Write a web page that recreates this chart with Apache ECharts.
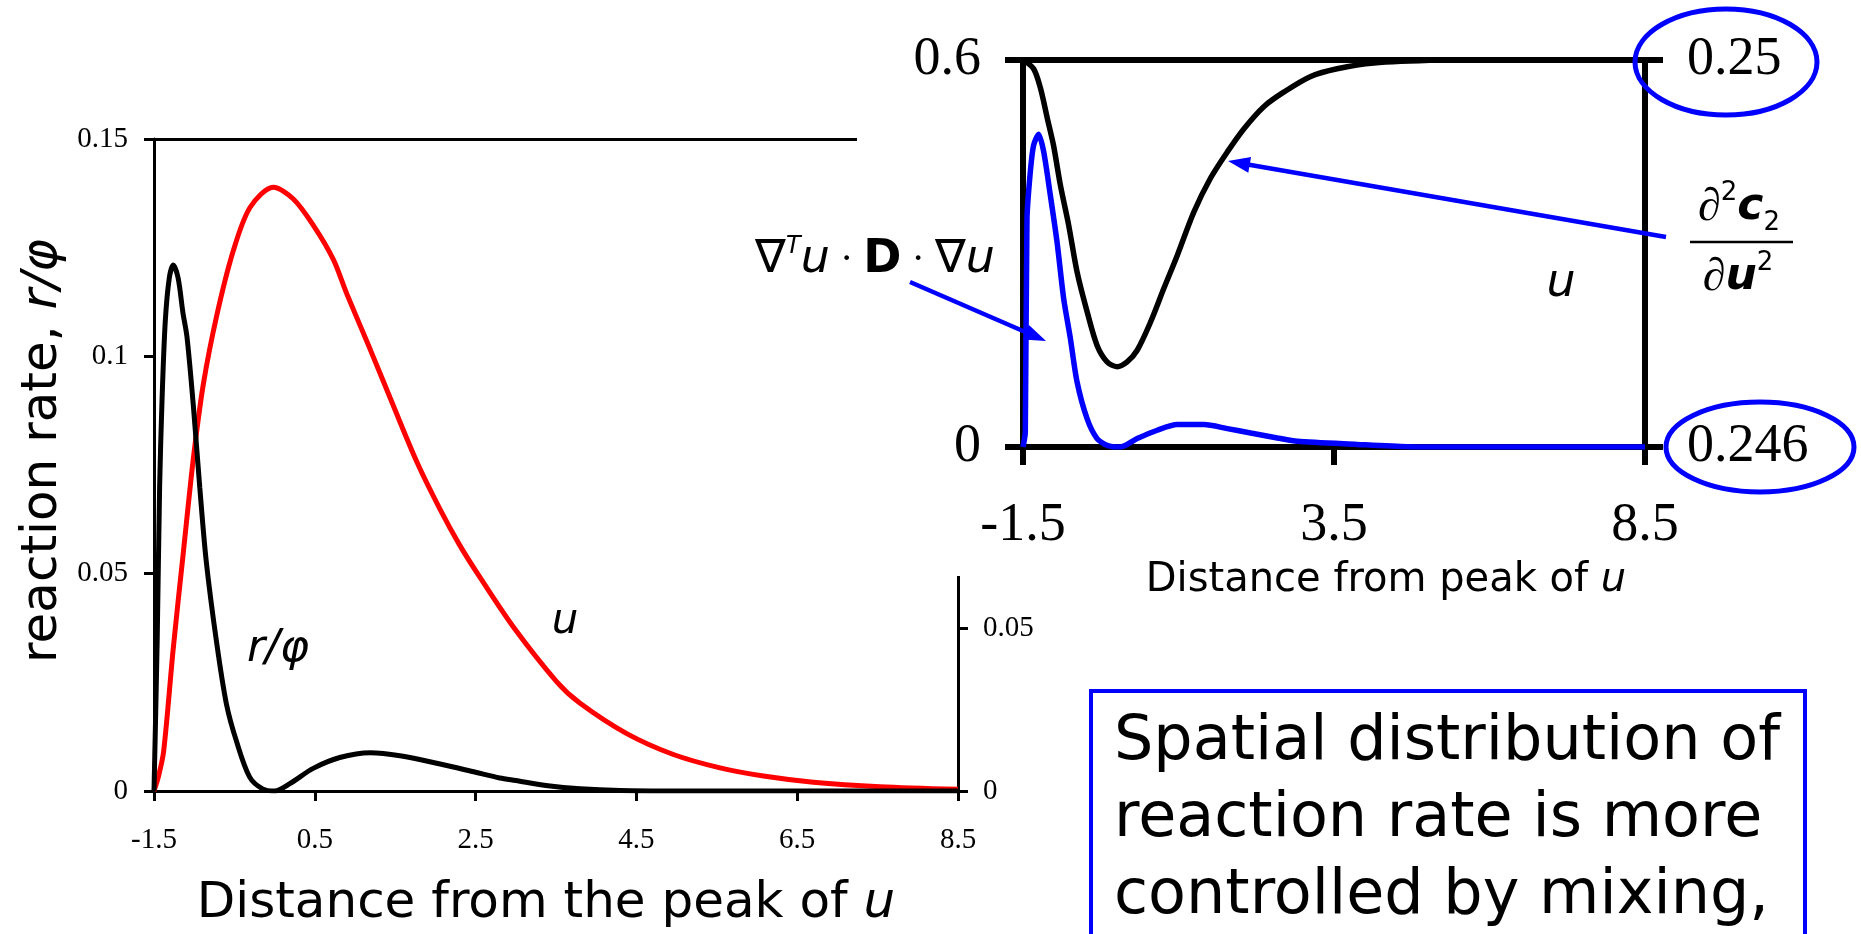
<!DOCTYPE html>
<html>
<head>
<meta charset="utf-8">
<script src="https://cdn.jsdelivr.net/npm/echarts@6/dist/echarts.min.js"></script>
<style>
html, body { margin: 0; padding: 0; background: #fff; }
#main { width: 1861px; height: 934px; }
</style>
</head>
<body>
<div id="main"></div>
<script>
// ---- Main panel: reaction rate r/phi (left axis) and u (right axis) ----
const rateX = [-1.5, -1.46, -1.43, -1.40, -1.36, -1.31, -1.26, -1.20, -1.14, -1.09, -1.01, -0.93, -0.85, -0.72, -0.60, -0.47, -0.31, -0.15, 0.0, 0.19, 0.48, 0.81, 1.19, 1.56, 2.06, 2.5, 2.8, 3.0, 3.4, 3.8, 4.3, 5.0, 6.0, 7.0, 8.5];
const rateVal = [0, 0.035, 0.07, 0.09, 0.108, 0.118, 0.121, 0.118, 0.110, 0.1045, 0.0885, 0.0697, 0.0528, 0.034, 0.0201, 0.0112, 0.0032, 0.0005, 0.0, 0.0017, 0.0052, 0.0077, 0.0088, 0.0081, 0.0062, 0.0043, 0.003, 0.0024, 0.0012, 0.0005, 0.0001, 0, 0, 0, 0];

const uX = [-1.5, -1.446, -1.38, -1.26, -1.135, -1.01, -0.887, -0.72, -0.514, -0.306, -0.016, 0.233, 0.48, 0.73, 0.9, 1.19, 1.435, 1.77, 2.06, 2.3, 2.555, 2.97, 3.51, 3.8, 4.38, 4.96, 5.54, 6.08, 6.7, 7.53, 8.5];
const uVal = [0, 0.0043, 0.0122, 0.0439, 0.0732, 0.1021, 0.1247, 0.1458, 0.1657, 0.179, 0.1852, 0.1816, 0.1736, 0.1631, 0.1524, 0.1354, 0.1207, 0.1009, 0.0863, 0.0755, 0.0655, 0.0503, 0.0335, 0.0269, 0.0176, 0.0112, 0.0071, 0.0046, 0.0027, 0.0013, 0.0005];

const mainTicks = [-1.5, 0.5, 2.5, 4.5, 6.5, 8.5];

// ---- Inset: mixing term (left axis) and second derivative of c2 (right axis) ----
const mixX = [-1.5, -1.463, -1.436, -1.382, -1.329, -1.249, -1.168, -1.06, -0.953, -0.846, -0.738, -0.631, -0.47, -0.309, -0.148, 0.067, 0.336, 0.658, 0.98, 1.41, 1.785, 2.16, 2.59, 2.91, 3.87, 4.68, 5.5, 8.5];
const mixVal = [0, 0.023, 0.354, 0.427, 0.468, 0.485, 0.458, 0.39, 0.318, 0.23, 0.168, 0.101, 0.044, 0.013, 0.0026, 0, 0.013, 0.026, 0.0347, 0.0347, 0.0285, 0.0217, 0.014, 0.0088, 0.004, 0.0005, 0, 0];

const curvX = [-1.5, -1.33, -1.22, -1.11, -1.01, -0.9, -0.765, -0.631, -0.47, -0.309, -0.148, 0.013, 0.174, 0.336, 0.55, 0.765, 0.98, 1.248, 1.516, 1.785, 2.053, 2.375, 2.697, 3.125, 3.55, 4.14, 5.22];
const curvVal = [0.25, 0.24991, 0.24971, 0.2494, 0.24912, 0.24871, 0.24829, 0.24781, 0.2474, 0.24705, 0.24688, 0.24683, 0.24688, 0.247, 0.24729, 0.24764, 0.24798, 0.24843, 0.24878, 0.24905, 0.24929, 0.24952, 0.24967, 0.24983, 0.24991, 0.24997, 0.25];

const insetTicks = [-1.5, 3.5, 8.5];
const insetRightTicks = [0.246, 0.25];

const pairs = (xs, ys) => xs.map((x, i) => [x, ys[i]]);

const serif = '"Liberation Serif", "Times New Roman", serif';
const sans = '"DejaVu Sans", sans-serif';
const BLUE = '#0000ff';

function arrow(x1, y1, x2, y2) {
  const dx = x2 - x1, dy = y2 - y1, L = Math.hypot(dx, dy);
  const ux = dx / L, uy = dy / L, hl = 22, hw = 8;
  const bx = x2 - ux * hl, by = y2 - uy * hl;
  return [
    { type: 'line', z: 30, silent: true, shape: { x1: x1, y1: y1, x2: bx + ux * 2, y2: by + uy * 2 },
      style: { stroke: BLUE, lineWidth: 4.5 } },
    { type: 'polygon', z: 30, silent: true,
      shape: { points: [[x2, y2], [bx - uy * hw, by + ux * hw], [bx + uy * hw, by - ux * hw]] },
      style: { fill: BLUE } }
  ];
}

const chart = echarts.init(document.getElementById('main'), null, { renderer: 'canvas' });

const blackLine = (w) => ({ color: '#000', width: w });

const option = {
  animation: false,
  backgroundColor: '#fff',
  grid: [
    { left: 154, top: 139, width: 804, height: 656 },
    { left: 1023, top: 60, width: 622, height: 387, z: 20 }
  ],
  xAxis: [
    {
      gridIndex: 0, type: 'value', min: -1.5, max: 8.5,
      axisLine: { onZero: false, lineStyle: blackLine(3) },
      axisTick: { customValues: mainTicks, length: 10, lineStyle: blackLine(3) },
      axisLabel: { customValues: mainTicks, fontFamily: serif, fontSize: 29, color: '#000', margin: 35 },
      splitLine: { show: false },
      name: '{t|Distance from the peak of }{i|u}',
      nameLocation: 'middle', nameGap: 88,
      nameTextStyle: {
        padding: [0, 20, 0, 0],
        rich: {
          t: { fontFamily: sans, fontSize: 50, color: '#000' },
          i: { fontFamily: sans, fontSize: 50, fontStyle: 'italic', color: '#000' }
        }
      }
    },
    {
      gridIndex: 0, type: 'value', min: -1.5, max: 8.5, position: 'top',
      axisLine: { onZero: false, lineStyle: blackLine(3) },
      axisTick: { show: false }, axisLabel: { show: false }, splitLine: { show: false }
    },
    {
      gridIndex: 1, type: 'value', min: -1.5, max: 8.5, z: 20,
      axisLine: { onZero: false, lineStyle: blackLine(6) },
      axisTick: { customValues: insetTicks, length: 18, lineStyle: blackLine(6) },
      axisLabel: { customValues: insetTicks, fontFamily: serif, fontSize: 54, color: '#000', margin: 52 },
      splitLine: { show: false },
      name: '{t|Distance from peak of }{i|u}',
      nameLocation: 'middle', nameGap: 114,
      nameTextStyle: {
        padding: [0, 0, 0, 104],
        rich: {
          t: { fontFamily: sans, fontSize: 40, color: '#000' },
          i: { fontFamily: sans, fontSize: 40, fontStyle: 'italic', color: '#000' }
        }
      }
    },
    {
      gridIndex: 1, type: 'value', min: -1.5, max: 8.5, position: 'top', z: 20,
      axisLine: { onZero: false, lineStyle: blackLine(6) },
      axisTick: { show: false }, axisLabel: { show: false }, splitLine: { show: false }
    }
  ],
  yAxis: [
    {
      gridIndex: 0, type: 'value', position: 'left', min: 0, max: 0.15, interval: 0.05,
      axisLine: { onZero: false, lineStyle: blackLine(3) },
      axisTick: { length: 10, lineStyle: blackLine(3) },
      axisLabel: { fontFamily: serif, fontSize: 29, color: '#000', margin: 26 },
      splitLine: { show: false },
      name: '{t|reaction rate, }{i|r/\u03C6}',
      nameLocation: 'middle', nameRotate: 90, nameGap: 86,
      nameTextStyle: {
        padding: [0, 0, 0, 28],
        rich: {
          t: { fontFamily: sans, fontSize: 50, color: '#000' },
          i: { fontFamily: sans, fontSize: 50, fontStyle: 'italic', color: '#000' }
        }
      }
    },
    {
      gridIndex: 0, type: 'value', position: 'right', min: 0, max: 0.2, interval: 0.05,
      axisLine: { onZero: false, lineStyle: blackLine(3) },
      axisTick: { length: 10, lineStyle: blackLine(3) },
      axisLabel: { fontFamily: serif, fontSize: 29, color: '#000', margin: 25 },
      splitLine: { show: false }
    },
    {
      gridIndex: 1, type: 'value', position: 'left', min: 0, max: 0.6, interval: 0.6, z: 20,
      axisLine: { onZero: false, lineStyle: blackLine(6) },
      axisTick: { length: 18, lineStyle: blackLine(6) },
      axisLabel: { fontFamily: serif, fontSize: 54, color: '#000', margin: 42 },
      splitLine: { show: false }
    },
    {
      gridIndex: 1, type: 'value', position: 'right', min: 0.246, max: 0.25, z: 20,
      axisLine: { onZero: false, lineStyle: blackLine(6) },
      axisTick: { customValues: insetRightTicks, length: 18, lineStyle: blackLine(6) },
      axisLabel: { customValues: insetRightTicks, fontFamily: serif, fontSize: 54, color: '#000', margin: 42 },
      splitLine: { show: false }
    }
  ],
  series: [
    {
      name: 'r/\u03C6', type: 'line', xAxisIndex: 0, yAxisIndex: 0,
      data: pairs(rateX, rateVal), showSymbol: false, smooth: 0.3,
      lineStyle: { color: '#000', width: 5 }, z: 3
    },
    {
      name: 'u', type: 'line', xAxisIndex: 0, yAxisIndex: 1,
      data: pairs(uX, uVal), showSymbol: false, smooth: 0.3,
      lineStyle: { color: '#ff0000', width: 5 }, z: 2
    },
    {
      name: 'mixing', type: 'line', xAxisIndex: 2, yAxisIndex: 2,
      data: pairs(mixX, mixVal), showSymbol: false, smooth: 0.25,
      lineStyle: { color: BLUE, width: 5.5 }, z: 21
    },
    {
      name: 'curvature', type: 'line', xAxisIndex: 2, yAxisIndex: 3,
      data: pairs(curvX, curvVal), showSymbol: false, smooth: 0.3,
      lineStyle: { color: '#000', width: 5.5 }, z: 22
    }
  ],
  graphic: [
    // white backing of the inset panel
    { type: 'rect', z: 10, silent: true, shape: { x: 857, y: 0, width: 1004, height: 576 }, style: { fill: '#fff' } },

    // curve labels in the main panel
    { type: 'text', z: 30, silent: true, x: 278, y: 650,
      style: { text: 'r/\u03C6', font: 'italic 44px "DejaVu Sans"', fill: '#000', align: 'center', verticalAlign: 'middle' } },
    { type: 'text', z: 30, silent: true, x: 565, y: 622,
      style: { text: 'u', font: 'italic 42px "DejaVu Sans"', fill: '#000', align: 'center', verticalAlign: 'middle' } },

    // inset labels
    { type: 'text', z: 30, silent: true, x: 1561, y: 284,
      style: { text: 'u', font: 'italic 46px "DejaVu Sans"', fill: '#000', align: 'center', verticalAlign: 'middle' } },
    { type: 'text', z: 30, silent: true, x: 875, y: 260,
      style: {
        text: '{n|\u2207}{s|T}{u|u}{d| \u00B7 }{b|D}{d| \u00B7 }{n|\u2207}{u|u}',
        align: 'center', verticalAlign: 'middle',
        rich: {
          n: { font: '46px "Liberation Serif"', fill: '#000', lineHeight: 50 },
          s: { font: 'italic 24px "DejaVu Sans"', fill: '#000', verticalAlign: 'top', lineHeight: 50 },
          u: { font: 'italic 46px "DejaVu Sans"', fill: '#000', lineHeight: 50 },
          d: { font: '40px "Liberation Serif"', fill: '#000', lineHeight: 50 },
          b: { font: 'bold 46px "DejaVu Sans"', fill: '#000', lineHeight: 50 }
        }
      } },
    // fraction d2c2/du2
    { type: 'text', z: 30, silent: true, x: 1739, y: 208,
      style: {
        text: '{n|\u2202}{s|2}{c|c}{b|2}',
        align: 'center', verticalAlign: 'middle',
        rich: {
          n: { font: '46px "Liberation Serif"', fill: '#000', lineHeight: 56 },
          s: { font: '26px "DejaVu Sans"', fill: '#000', verticalAlign: 'top', lineHeight: 56 },
          c: { font: 'italic bold 44px "DejaVu Sans"', fill: '#000', lineHeight: 56 },
          b: { font: '26px "DejaVu Sans"', fill: '#000', verticalAlign: 'bottom', lineHeight: 56 }
        }
      } },
    { type: 'line', z: 30, silent: true, shape: { x1: 1690, y1: 242, x2: 1793, y2: 242 }, style: { stroke: '#000', lineWidth: 2.5 } },
    { type: 'text', z: 30, silent: true, x: 1738, y: 278,
      style: {
        text: '{n|\u2202}{c|u}{s|2}',
        align: 'center', verticalAlign: 'middle',
        rich: {
          n: { font: '46px "Liberation Serif"', fill: '#000', lineHeight: 56 },
          c: { font: 'italic bold 44px "DejaVu Sans"', fill: '#000', lineHeight: 56 },
          s: { font: '26px "DejaVu Sans"', fill: '#000', verticalAlign: 'top', lineHeight: 56 }
        }
      } },

    // circled axis limits
    { type: 'ellipse', z: 30, silent: true, shape: { cx: 1726, cy: 62, rx: 91, ry: 53 }, style: { fill: null, stroke: BLUE, lineWidth: 5 } },
    { type: 'ellipse', z: 30, silent: true, shape: { cx: 1760, cy: 447, rx: 94, ry: 45 }, style: { fill: null, stroke: BLUE, lineWidth: 5 } },

    ...arrow(910, 282, 1046, 341),
    ...arrow(1666, 237, 1228, 161),

    // note box
    { type: 'rect', z: 30, silent: true, shape: { x: 1091, y: 691, width: 714, height: 300 },
      style: { fill: '#fff', stroke: BLUE, lineWidth: 4 } },
    { type: 'text', z: 31, silent: true, x: 1114, y: 704,
      style: {
        text: 'Spatial distribution of\nreaction rate is more\ncontrolled by mixing,',
        font: '62px "DejaVu Sans"', lineHeight: 77, fill: '#000', align: 'left', verticalAlign: 'top'
      } }
  ]
};

chart.setOption(option);
</script>
</body>
</html>
